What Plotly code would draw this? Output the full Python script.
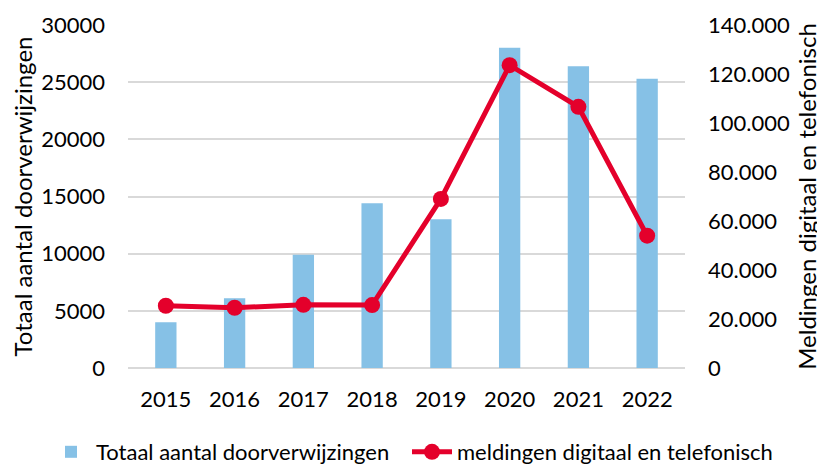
import plotly.graph_objects as go

years = ["2015", "2016", "2017", "2018", "2019", "2020", "2021", "2022"]
doorverwijzingen = [4000, 6100, 9900, 14400, 13000, 28000, 26400, 25300]
meldingen = [25400, 24600, 25800, 25700, 69000, 123600, 106600, 54000]

left_ticks = [0, 5000, 10000, 15000, 20000, 25000, 30000]
right_ticks = [0, 20000, 40000, 60000, 80000, 100000, 120000, 140000]

FONT = "Lato"
BLUE = "#86C1E6"
RED = "#E4002B"

# The page body has an 8px margin, so the figure is sized 8px smaller.
W, H = 817, 456

fig = go.Figure()
fig.add_trace(go.Bar(
    x=years, y=doorverwijzingen, name="Totaal aantal doorverwijzingen",
    marker=dict(color=BLUE, line=dict(width=0)), yaxis="y", legend="legend",
))
fig.add_trace(go.Scatter(
    x=years, y=meldingen, name="meldingen digitaal en telefonisch",
    mode="lines+markers", line=dict(color=RED, width=5),
    marker=dict(color=RED, size=16), yaxis="y2", legend="legend2",
))

legend_common = dict(orientation="h", xref="container", yref="container",
                     xanchor="left", y=(H - 444) / H, yanchor="middle",
                     font=dict(size=22), bgcolor="rgba(0,0,0,0)",
                     itemwidth=40)

fig.update_layout(
    width=W, height=H,
    margin=dict(l=120, r=140, t=17, b=96, autoexpand=False),
    paper_bgcolor="white", plot_bgcolor="white",
    font=dict(family=FONT, size=22, color="#000000"),
    separators=",.",
    bargap=0.69,
    showlegend=True,
    legend=dict(x=38 / W, **legend_common),
    legend2=dict(x=399 / W, **legend_common),
    xaxis=dict(type="category", showgrid=False, showline=False, ticks="",
               tickfont=dict(size=22), ticklabelstandoff=16),
    yaxis=dict(range=[0, 30000], tickvals=left_ticks, tickformat="d",
               showgrid=True, gridcolor="#D9D9D9", gridwidth=1.5,
               zeroline=True, zerolinecolor="#D9D9D9", zerolinewidth=1.5,
               showline=False, ticks="", tickfont=dict(size=22), ticklabelstandoff=22,
               title=dict(text="Totaal aantal doorverwijzingen", font=dict(size=24), standoff=8)),
    yaxis2=dict(range=[0, 140000], tickvals=right_ticks, tickformat=",d",
                overlaying="y", side="right", showgrid=False, zeroline=False,
                showline=False, ticks="", tickfont=dict(size=22), ticklabelstandoff=22,
                title=dict(text="Meldingen digitaal en telefonisch", font=dict(size=24), standoff=10)),
)

fig.write_html("out.html")
